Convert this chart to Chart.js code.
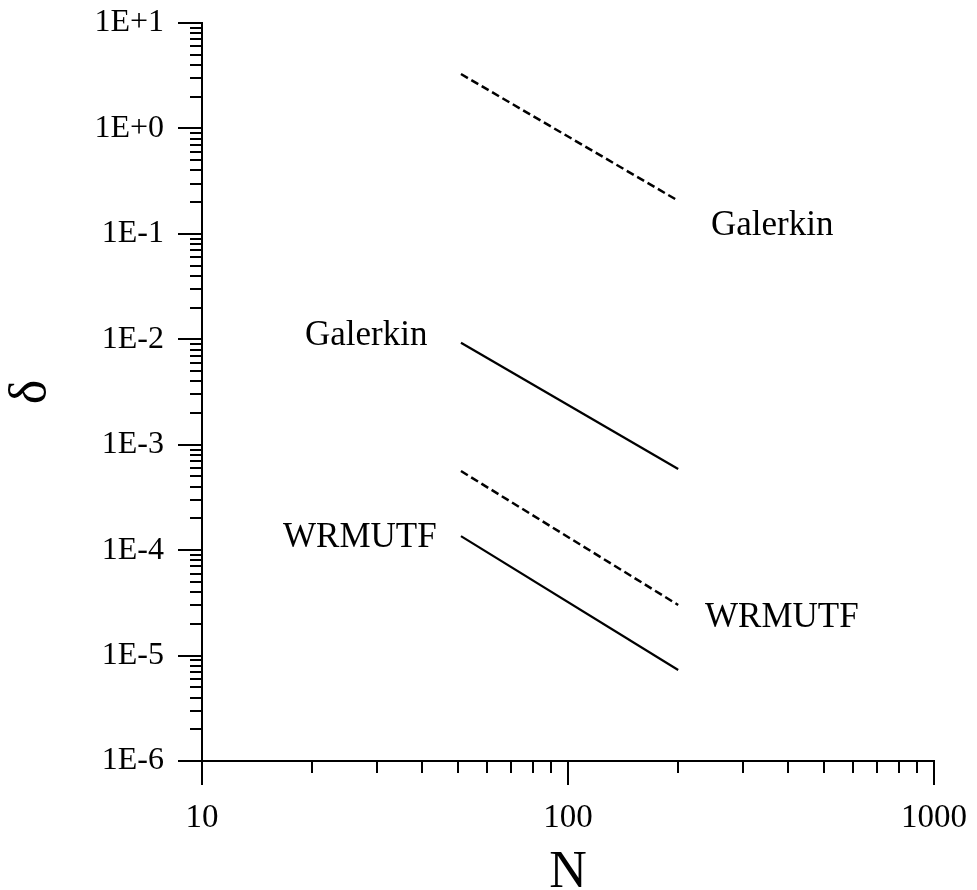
<!DOCTYPE html>
<html>
<head>
<meta charset="utf-8">
<script src="https://cdn.jsdelivr.net/npm/chart.js@4.4.0/dist/chart.umd.min.js"></script>
<style>
  html, body { margin: 0; padding: 0; background: #fff; }
  #wrap { width: 977px; height: 890px; position: relative; }
</style>
</head>
<body>
<div id="wrap"><canvas id="errChart"></canvas></div>
<script>
// N at both ends of each run
const nValues = [51, 200];

// error delta per method (dashed / solid variants)
const galerkinDashed = [3.28, 0.206];
const galerkinSolid = [9.28e-3, 5.89e-4];
const wrmutfDashed = [5.63e-4, 3.02e-5];
const wrmutfSolid = [1.36e-4, 7.30e-6];

const xTickValues = [10, 100, 1000];
const xTickLabels = ['10', '100', '1000'];
const yTickValues = [1e-6, 1e-5, 1e-4, 1e-3, 1e-2, 1e-1, 1e0, 1e1];
const yTickLabels = ['1E-6', '1E-5', '1E-4', '1E-3', '1E-2', '1E-1', '1E+0', '1E+1'];

const serif = 'Liberation Serif';

function toPoints(vals) {
    return nValues.map((n, i) => ({ x: n, y: vals[i] }));
}

function lineSet(vals, dashed) {
    return {
        data: toPoints(vals),
        borderColor: '#000',
        borderWidth: dashed ? 2.5 : 2.2,
        borderDash: dashed ? [8, 4] : [],
        pointRadius: 0,
        fill: false,
        tension: 0
    };
}

// log ticks drawn by hand: long at decades, short in between
const axisDecor = {
    id: 'axisDecor',
    afterDraw(chart) {
        const { ctx, scales: { x, y }, chartArea: a } = chart;
        ctx.save();
        ctx.strokeStyle = '#000';
        ctx.lineWidth = 2;
        ctx.beginPath();
        for (let e = -6; e <= 1; e++) {
            for (let d = 1; d <= 9; d++) {
                if (e === 1 && d > 1) break;
                const py = Math.round(y.getPixelForValue(d * Math.pow(10, e)));
                const len = d === 1 ? 24 : 12;
                ctx.moveTo(a.left - len, py);
                ctx.lineTo(a.left + 1, py);
            }
        }
        for (let e = 1; e <= 3; e++) {
            for (let d = 1; d <= 9; d++) {
                if (e === 3 && d > 1) break;
                const px = Math.round(x.getPixelForValue(d * Math.pow(10, e)));
                const len = d === 1 ? 24 : 12;
                ctx.moveTo(px, a.bottom - 1);
                ctx.lineTo(px, a.bottom + len);
            }
        }
        ctx.stroke();

        // axis titles
        ctx.fillStyle = '#000';
        ctx.font = '52px "' + serif + '"';
        ctx.textAlign = 'center';
        ctx.textBaseline = 'alphabetic';
        ctx.fillText('N', (a.left + a.right) / 2, 887);
        ctx.save();
        ctx.translate(31, 392);
        ctx.rotate(-Math.PI / 2);
        ctx.textBaseline = 'middle';
        ctx.fillText('\u03B4', 0, 0);
        ctx.restore();

        // curve names
        ctx.font = '35px "' + serif + '"';
        ctx.textAlign = 'left';
        ctx.fillText('Galerkin', 711, 235);
        ctx.fillText('Galerkin', 305, 345);
        ctx.fillText('WRMUTF', 283, 547);
        ctx.fillText('WRMUTF', 705, 627);
        ctx.restore();
    }
};

const ctx = document.getElementById('errChart').getContext('2d');

const errChart = new Chart(ctx, {
    type: 'line',
    data: {
        datasets: [
            lineSet(galerkinDashed, true),
            lineSet(galerkinSolid, false),
            lineSet(wrmutfDashed, true),
            lineSet(wrmutfSolid, false)
        ]
    },
    options: {
        responsive: true,
        maintainAspectRatio: false,
        animation: false,
        layout: { padding: { top: 23, right: 43, left: 0, bottom: 0 } },
        scales: {
            x: {
                type: 'logarithmic',
                position: 'bottom',
                min: 10,
                max: 1000,
                grid: { display: false, drawTicks: false },
                border: { display: true, color: '#000', width: 2 },
                ticks: {
                    autoSkip: false,
                    maxRotation: 0,
                    padding: 38,
                    color: '#000',
                    font: { family: serif, size: 33 },
                    callback: function (value) {
                        const i = xTickValues.indexOf(value);
                        return i >= 0 ? xTickLabels[i] : '';
                    }
                },
                afterBuildTicks: function (scale) {
                    scale.ticks = xTickValues.map(v => ({ value: v }));
                },
                afterFit: function (scale) {
                    scale.height = 129;
                    scale.paddingLeft = 0;
                    scale.paddingRight = 0;
                }
            },
            y: {
                type: 'logarithmic',
                position: 'left',
                min: 1e-6,
                max: 10,
                grid: { display: false, drawTicks: false },
                border: { display: true, color: '#000', width: 2 },
                ticks: {
                    autoSkip: false,
                    padding: 38,
                    color: '#000',
                    font: { family: serif, size: 32 },
                    callback: function (value) {
                        const i = yTickValues.indexOf(value);
                        return i >= 0 ? yTickLabels[i] : '';
                    }
                },
                afterBuildTicks: function (scale) {
                    scale.ticks = yTickValues.map(v => ({ value: v }));
                },
                afterFit: function (scale) {
                    scale.width = 202;
                    scale.paddingTop = 0;
                    scale.paddingBottom = 0;
                }
            }
        },
        plugins: {
            legend: { display: false },
            tooltip: { enabled: false }
        }
    },
    plugins: [axisDecor]
});
</script>
</body>
</html>
